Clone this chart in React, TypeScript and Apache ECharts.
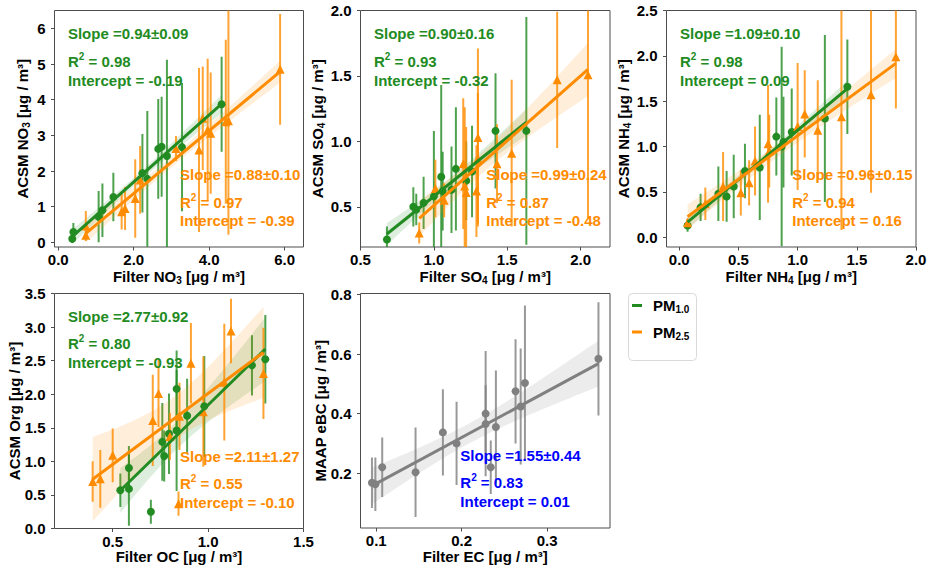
import React, { useEffect, useRef } from 'react';
import * as echarts from 'echarts';

const FONT = 'Liberation Sans';
const FS = 15;
const GREEN = '#228b22';
const ORANGE = '#ff8c00';
const GRAY = '#808080';
const BLUE = '#0000ff';

// ---------- NO3 ----------
const no3Pm1X = [0.37, 0.40, 1.07, 1.17, 1.46, 2.23, 2.36, 2.65, 2.74, 2.88, 3.28, 4.33];
const no3Pm1Y = [0.10, 0.29, 0.72, 0.90, 1.27, 1.94, 1.78, 2.62, 2.68, 2.42, 2.67, 3.87];
const no3Pm1Err = [0.12, 0.25, 0.72, 0.75, 0.68, 1.1, 1.9, 1.4, 1.4, 2.7, 1.8, 1.33];
const no3Pm25X = [0.73, 0.73, 1.68, 1.77, 2.04, 2.17, 3.12, 3.73, 3.83, 3.96, 4.04, 4.44, 4.51, 5.88];
const no3Pm25Y = [0.20, 0.46, 0.86, 0.95, 1.23, 1.75, 2.63, 2.59, 3.48, 3.15, 3.06, 3.38, 3.41, 4.85];
const no3Pm25Err = [0.1, 0.42, 0.5, 0.6, 1.1, 0.95, 0.35, 2.3, 1.45, 2.0, 1.7, 2.3, 3.2, 1.55];
const no3Slope = [0.94, 0.88];
const no3SlopeErr = [0.09, 0.10];
const no3R2 = [0.98, 0.97];
const no3Intercept = [-0.19, -0.39];
const no3XTicks = [0, 2, 4, 6];
const no3YTicks = [0, 1, 2, 3, 4, 5, 6];

// ---------- SO4 ----------
const so4Pm1X = [0.68, 0.86, 0.88, 0.93, 1.00, 1.05, 1.06, 1.12, 1.15, 1.22, 1.26, 1.42, 1.63];
const so4Pm1Y = [0.25, 0.50, 0.48, 0.53, 0.58, 0.73, 0.62, 0.63, 0.79, 0.70, 0.77, 1.08, 1.08];
const so4Pm1Err = [0.10, 0.15, 0.12, 0.20, 0.50, 0.70, 0.30, 0.33, 0.47, 0.30, 0.35, 0.44, 0.87];
const so4Pm25X = [0.90, 1.01, 1.07, 1.20, 1.21, 1.22, 1.29, 1.30, 1.30, 1.43, 1.53, 1.84, 2.05];
const so4Pm25Y = [0.30, 0.64, 0.55, 0.83, 0.66, 0.61, 0.62, 1.03, 0.87, 0.83, 0.91, 1.47, 1.51];
const so4Pm25Err = [0.08, 0.22, 0.13, 0.50, 0.60, 0.50, 0.35, 0.68, 0.50, 0.30, 0.56, 0.52, 1.10];
const so4Slope = [0.90, 0.99];
const so4SlopeErr = [0.16, 0.24];
const so4R2 = [0.93, 0.87];
const so4Intercept = [-0.32, -0.48];
const so4XTicks = [0.5, 1.0, 1.5, 2.0];
const so4YTicks = [0.5, 1.0, 1.5, 2.0];

// ---------- NH4 ----------
const nh4Pm1X = [0.07, 0.18, 0.33, 0.40, 0.46, 0.555, 0.68, 0.82, 0.865, 0.88, 0.95, 1.23, 1.42];
const nh4Pm1Y = [0.13, 0.33, 0.48, 0.45, 0.56, 0.73, 0.77, 1.11, 1.00, 1.05, 1.16, 1.31, 1.66];
const nh4Pm1Err = [0.07, 0.15, 0.3, 0.28, 0.35, 0.3, 0.58, 0.43, 1.1, 0.5, 0.48, 0.92, 0.52];
const nh4Pm25X = [0.07, 0.22, 0.37, 0.52, 0.59, 0.64, 0.75, 0.76, 1.00, 1.06, 1.17, 1.37, 1.62, 1.83];
const nh4Pm25Y = [0.16, 0.37, 0.56, 0.49, 0.60, 0.84, 1.03, 0.95, 1.22, 1.36, 1.18, 1.33, 1.57, 1.99];
const nh4Pm25Err = [0.05, 0.18, 0.38, 0.25, 0.25, 0.38, 0.65, 0.4, 0.7, 0.48, 0.55, 1.25, 1.08, 0.57];
const nh4Slope = [1.09, 0.96];
const nh4SlopeErr = [0.10, 0.15];
const nh4R2 = [0.98, 0.94];
const nh4Intercept = [0.09, 0.16];
const nh4XTicks = [0, 0.5, 1.0, 1.5, 2.0];
const nh4YTicks = [0, 0.5, 1.0, 1.5, 2.0, 2.5];

// ---------- OC / Org ----------
const ocPm1X = [0.54, 0.585, 0.585, 0.70, 0.76, 0.77, 0.795, 0.835, 0.835, 0.89, 0.98, 1.23, 1.30];
const ocPm1Y = [0.57, 0.90, 0.59, 0.25, 1.29, 1.08, 1.41, 2.08, 1.46, 1.68, 1.82, 2.43, 2.52];
const ocPm1Err = [0.25, 0.33, 0.55, 0.18, 0.58, 0.38, 0.6, 0.57, 0.9, 0.55, 0.75, 0.45, 0.66];
const ocPm25X = [0.395, 0.435, 0.50, 0.71, 0.74, 0.80, 0.845, 0.85, 0.91, 0.975, 1.085, 1.12, 1.29];
const ocPm25Y = [0.70, 0.74, 1.09, 1.61, 2.01, 1.37, 0.37, 1.67, 2.46, 1.74, 2.18, 2.94, 2.31];
const ocPm25Err = [0.3, 0.43, 0.4, 0.68, 0.5, 0.35, 0.18, 0.5, 0.6, 0.82, 0.87, 0.48, 0.68];
const ocSlope = [2.77, 2.11];
const ocSlopeErr = [0.92, 1.27];
const ocR2 = [0.80, 0.55];
const ocIntercept = [-0.93, -0.10];
const ocXTicks = [0.5, 1.0, 1.5];
const ocYTicks = [0, 0.5, 1.0, 1.5, 2.0, 2.5, 3.0, 3.5];

// ---------- EC / eBC ----------
const ecX = [0.095, 0.099, 0.107, 0.146, 0.178, 0.194, 0.228, 0.228, 0.234, 0.240, 0.263, 0.269, 0.274, 0.360];
const ecY = [0.168, 0.163, 0.22, 0.203, 0.337, 0.30, 0.40, 0.365, 0.22, 0.355, 0.475, 0.424, 0.503, 0.584];
const ecErr = [0.085, 0.09, 0.1, 0.15, 0.145, 0.14, 0.21, 0.13, 0.09, 0.19, 0.175, 0.195, 0.26, 0.19];
const ecSlope = [1.55];
const ecSlopeErr = [0.44];
const ecR2 = [0.83];
const ecIntercept = [0.01];
const ecXTicks = [0.1, 0.2, 0.3];
const ecYTicks = [0.2, 0.4, 0.6, 0.8];

const legendNames = ['PM1.0', 'PM2.5'];

// ---------- layout ----------
const GRIDS = [
  { left: 54.5, top: 10.5, width: 249, height: 236.5 },
  { left: 360.5, top: 10.5, width: 249.5, height: 236.5 },
  { left: 666.5, top: 10.5, width: 249.5, height: 236.5 },
  { left: 54.5, top: 293.5, width: 249, height: 235 },
  { left: 360.5, top: 293.5, width: 249.5, height: 234.5 },
];
// horizontal centre of each rotated y-axis title
const Y_NAME_X = [22.8, 317.8, 623.6, 14.8, 320.5];

const GREEN_ANN = { fx: 0.054, fy: 0.097 };
const ORANGE_ANN = { fx: 0.504, fy: 0.693 };
const BLUE_ANN = { fx: 0.40, fy: 0.691 };

type S = {
  x: number[]; y: number[]; err: number[]; color: string; textColor: string;
  symbol: string; size: number; name: string; slope: number; slopeErr: number;
  r2: number; icpt: number; ann: { fx: number; fy: number };
};

const mk = (x, y, err, color, textColor, symbol, size, name, slope, slopeErr, r2, icpt, ann): S =>
  ({ x, y, err, color, textColor, symbol, size, name, slope, slopeErr, r2, icpt, ann });

const sub = (a: string, s: string, b: string) => `{t|${a}}{s|${s}}{t|${b}}`;

const panels = [
  {
    xMin: -0.1, xMax: 6.5, yMin: -0.13, yMax: 6.5, xTicks: no3XTicks, yTicks: no3YTicks, xDec: 1, yDec: 0,
    xName: sub('Filter NO', '3', ' [μg / m³]'), yName: sub('ACSM NO', '3', ' [μg / m³]'), xGap: 20,
    series: [
      mk(no3Pm1X, no3Pm1Y, no3Pm1Err, GREEN, GREEN, 'circle', 8, legendNames[0], no3Slope[0], no3SlopeErr[0], no3R2[0], no3Intercept[0], GREEN_ANN),
      mk(no3Pm25X, no3Pm25Y, no3Pm25Err, ORANGE, ORANGE, 'triangle', 9, legendNames[1], no3Slope[1], no3SlopeErr[1], no3R2[1], no3Intercept[1], ORANGE_ANN),
    ],
  },
  {
    xMin: 0.5, xMax: 2.2, yMin: 0.193, yMax: 2.0, xTicks: so4XTicks, yTicks: so4YTicks, xDec: 1, yDec: 1,
    xName: sub('Filter SO', '4', ' [μg / m³]'), yName: sub('ACSM SO', '4', ' [μg / m³]'), xGap: 20,
    series: [
      mk(so4Pm1X, so4Pm1Y, so4Pm1Err, GREEN, GREEN, 'circle', 8, legendNames[0], so4Slope[0], so4SlopeErr[0], so4R2[0], so4Intercept[0], GREEN_ANN),
      mk(so4Pm25X, so4Pm25Y, so4Pm25Err, ORANGE, ORANGE, 'triangle', 9, legendNames[1], so4Slope[1], so4SlopeErr[1], so4R2[1], so4Intercept[1], ORANGE_ANN),
    ],
  },
  {
    xMin: -0.108, xMax: 2.0, yMin: -0.107, yMax: 2.5, xTicks: nh4XTicks, yTicks: nh4YTicks, xDec: 1, yDec: 1,
    xName: sub('Filter NH', '4', ' [μg / m³]'), yName: sub('ACSM NH', '4', ' [μg / m³]'), xGap: 20,
    series: [
      mk(nh4Pm1X, nh4Pm1Y, nh4Pm1Err, GREEN, GREEN, 'circle', 8, legendNames[0], nh4Slope[0], nh4SlopeErr[0], nh4R2[0], nh4Intercept[0], GREEN_ANN),
      mk(nh4Pm25X, nh4Pm25Y, nh4Pm25Err, ORANGE, ORANGE, 'triangle', 9, legendNames[1], nh4Slope[1], nh4SlopeErr[1], nh4R2[1], nh4Intercept[1], ORANGE_ANN),
    ],
  },
  {
    xMin: 0.195, xMax: 1.5, yMin: 0, yMax: 3.5, xTicks: ocXTicks, yTicks: ocYTicks, xDec: 1, yDec: 1,
    xName: '{t|Filter OC [μg / m³]}', yName: '{t|ACSM Org [μg / m³]}', xGap: 19,
    series: [
      mk(ocPm1X, ocPm1Y, ocPm1Err, GREEN, GREEN, 'circle', 8, legendNames[0], ocSlope[0], ocSlopeErr[0], ocR2[0], ocIntercept[0], GREEN_ANN),
      mk(ocPm25X, ocPm25Y, ocPm25Err, ORANGE, ORANGE, 'triangle', 9, legendNames[1], ocSlope[1], ocSlopeErr[1], ocR2[1], ocIntercept[1], ORANGE_ANN),
    ],
  },
  {
    xMin: 0.0816, xMax: 0.3735, yMin: 0.016, yMax: 0.8033, xTicks: ecXTicks, yTicks: ecYTicks, xDec: 1, yDec: 1,
    xName: '{t|Filter EC [μg / m³]}', yName: '{t|MAAP eBC [μg / m³]}', xGap: 19,
    series: [
      mk(ecX, ecY, ecErr, GRAY, BLUE, 'circle', 8, 'eBC', ecSlope[0], ecSlopeErr[0], ecR2[0], ecIntercept[0], BLUE_ANN),
    ],
  },
];

function confidenceBand(xs: number[], ys: number[], slope: number, icpt: number, steps = 40) {
  const n = xs.length;
  const xm = xs.reduce((a, b) => a + b, 0) / n;
  const sxx = xs.reduce((a, x) => a + (x - xm) ** 2, 0);
  const sse = xs.reduce((a, x, i) => a + (ys[i] - (icpt + slope * x)) ** 2, 0);
  const s = Math.sqrt(sse / (n - 2));
  const t = 2.2;
  const x0 = Math.min(...xs);
  const x1 = Math.max(...xs);
  const pts: number[][] = [];
  for (let k = 0; k <= steps; k++) {
    const x = x0 + ((x1 - x0) * k) / steps;
    const yh = icpt + slope * x;
    const hw = t * s * Math.sqrt(1 / n + (x - xm) ** 2 / sxx);
    pts.push([x, yh - hw, yh + hw]);
  }
  return pts;
}

const nameRich = {
  t: { fontFamily: FONT, fontWeight: 'bold', fontSize: FS, lineHeight: 18, color: '#000', fill: '#000' },
  s: { fontFamily: FONT, fontWeight: 'bold', fontSize: 10, lineHeight: 9, verticalAlign: 'bottom', color: '#000', fill: '#000' },
};

function buildOption() {
  const grid: any[] = [];
  const xAxis: any[] = [];
  const yAxis: any[] = [];
  const series: any[] = [];
  const graphic: any[] = [];

  panels.forEach((p, pi) => {
    const g = GRIDS[pi];
    grid.push({
      ...g, show: true, borderColor: '#4d4d4d', borderWidth: 1, backgroundColor: 'transparent',
      containLabel: false, outerBoundsMode: 'none',
    });
    const axisCommon = {
      type: 'value', gridIndex: pi, splitLine: { show: false },
      axisLine: { show: false, onZero: false },
      nameLocation: 'middle', nameMoveOverlap: false,
      nameTextStyle: { fontFamily: FONT, fontWeight: 'bold', fontSize: FS, color: '#000', rich: nameRich },
    };
    xAxis.push({
      ...axisCommon, min: p.xMin, max: p.xMax, name: p.xName, nameGap: p.xGap,
      axisTick: { show: true, length: 3.5, customValues: p.xTicks, lineStyle: { color: '#4d4d4d', width: 1 } },
      axisLabel: {
        customValues: p.xTicks, margin: 5, formatter: (v: number) => v.toFixed(p.xDec),
        fontFamily: FONT, fontWeight: 'bold', fontSize: FS, color: '#000',
      },
    });
    yAxis.push({
      ...axisCommon, min: p.yMin, max: p.yMax,
      axisTick: { show: true, length: 3.5, customValues: p.yTicks, lineStyle: { color: '#4d4d4d', width: 1 } },
      axisLabel: {
        customValues: p.yTicks, margin: 9, formatter: (v: number) => v.toFixed(p.yDec),
        fontFamily: FONT, fontWeight: 'bold', fontSize: FS, color: '#000',
      },
    });

    // rotated y-axis title
    graphic.push({
      type: 'text', x: Y_NAME_X[pi], y: g.top + g.height / 2, rotation: Math.PI / 2, z: 50,
      style: { text: p.yName, rich: nameRich, fill: '#000', align: 'center', verticalAlign: 'middle' },
    });

    p.series.forEach((s) => {
      const pts = s.x.map((x, i) => [x, s.y[i], s.err[i]]);
      // error bars
      series.push({
        type: 'custom', xAxisIndex: pi, yAxisIndex: pi, clip: true, silent: true,
        data: pts,
        renderItem: (params: any, api: any) => {
          const x = api.value(0), y = api.value(1), e = api.value(2);
          const a = api.coord([x, y - e]);
          const b = api.coord([x, y + e]);
          return {
            type: 'line', shape: { x1: a[0], y1: a[1], x2: b[0], y2: b[1] },
            style: { stroke: s.color, lineWidth: 2, opacity: 0.8 },
          };
        },
      });
      // confidence band
      const band = confidenceBand(s.x, s.y, s.slope, s.icpt);
      series.push({
        type: 'custom', xAxisIndex: pi, yAxisIndex: pi, clip: true, silent: true,
        data: band,
        renderItem: (params: any, api: any) => {
          if (params.dataIndex !== 0) return null;
          const up = band.map((b) => api.coord([b[0], b[2]]));
          const lo = band.map((b) => api.coord([b[0], b[1]])).reverse();
          return { type: 'polygon', shape: { points: up.concat(lo) }, style: { fill: s.color, opacity: 0.15 } };
        },
      });
      // regression line
      const x0 = Math.min(...s.x);
      const x1 = Math.max(...s.x);
      series.push({
        type: 'line', name: s.name, xAxisIndex: pi, yAxisIndex: pi, silent: true,
        data: [[x0, s.icpt + s.slope * x0], [x1, s.icpt + s.slope * x1]],
        showSymbol: false, symbol: 'none',
        lineStyle: { color: s.color, width: 3 }, itemStyle: { color: s.color },
      });
      // markers
      series.push({
        type: 'scatter', xAxisIndex: pi, yAxisIndex: pi, silent: true,
        data: pts.map((q) => [q[0], q[1]]),
        symbol: s.symbol, symbolSize: s.size,
        itemStyle: { color: s.color, opacity: 1 },
      });

      // annotations
      const ax = g.left + s.ann.fx * g.width;
      const ys = [s.ann.fy, s.ann.fy + 0.117, s.ann.fy + 0.197].map((f) => g.top + f * g.height);
      const font = `bold ${FS}px "${FONT}"`;
      graphic.push(
        {
          type: 'text', x: ax, y: ys[0], z: 100,
          style: { text: `Slope =${s.slope.toFixed(2)}±${s.slopeErr.toFixed(2)}`, fill: s.textColor, font, verticalAlign: 'middle', align: 'left' },
        },
        {
          type: 'text', x: ax, y: ys[1], z: 100,
          style: {
            text: `{r|R}{p|2}{r| = ${s.r2.toFixed(2)}}`, fill: s.textColor, verticalAlign: 'middle', align: 'left',
            rich: {
              r: { fontFamily: FONT, fontWeight: 'bold', fontSize: FS, lineHeight: 20, fill: s.textColor },
              p: { fontFamily: FONT, fontWeight: 'bold', fontSize: 10, lineHeight: 2, verticalAlign: 'top', fill: s.textColor },
            },
          },
        },
        {
          type: 'text', x: ax, y: ys[2], z: 100,
          style: { text: `Intercept = ${s.icpt.toFixed(2)}`, fill: s.textColor, font, verticalAlign: 'middle', align: 'left' },
        },
      );
    });
  });

  graphic.push({
    type: 'rect', z: 0,
    shape: { x: 628.5, y: 293.5, width: 68, height: 67, r: 4 },
    style: { fill: '#fff', stroke: '#d9d9d9', lineWidth: 1 },
  });

  return {
    animation: false,
    backgroundColor: '#fff',
    grid, xAxis, yAxis, series, graphic,
    legend: {
      orient: 'vertical', left: 632, top: 298, padding: 0, itemGap: 10,
      itemWidth: 10, itemHeight: 3, icon: 'rect', selectedMode: false, z: 10,
      data: legendNames,
      formatter: (name: string) => (name === legendNames[0] ? '{m|PM}{s|1.0}' : '{m|PM}{s|2.5}'),
      textStyle: {
        padding: [0, 0, 0, 6],
        rich: {
          m: { fontFamily: FONT, fontWeight: 'bold', fontSize: FS, lineHeight: 18, color: '#000' },
          s: { fontFamily: FONT, fontWeight: 'bold', fontSize: 10, lineHeight: 9, verticalAlign: 'bottom', color: '#000' },
        },
      },
    },
  };
}

export default function App() {
  const ref = useRef<HTMLDivElement>(null);
  useEffect(() => {
    const chart = echarts.init(ref.current as HTMLDivElement, null, { renderer: 'svg' });
    chart.setOption(buildOption() as any);
    return () => chart.dispose();
  }, []);
  return (
    <div
      ref={ref}
      style={{ position: 'absolute', left: 0, top: 0, width: 930, height: 568, background: '#fff' }}
    />
  );
}
